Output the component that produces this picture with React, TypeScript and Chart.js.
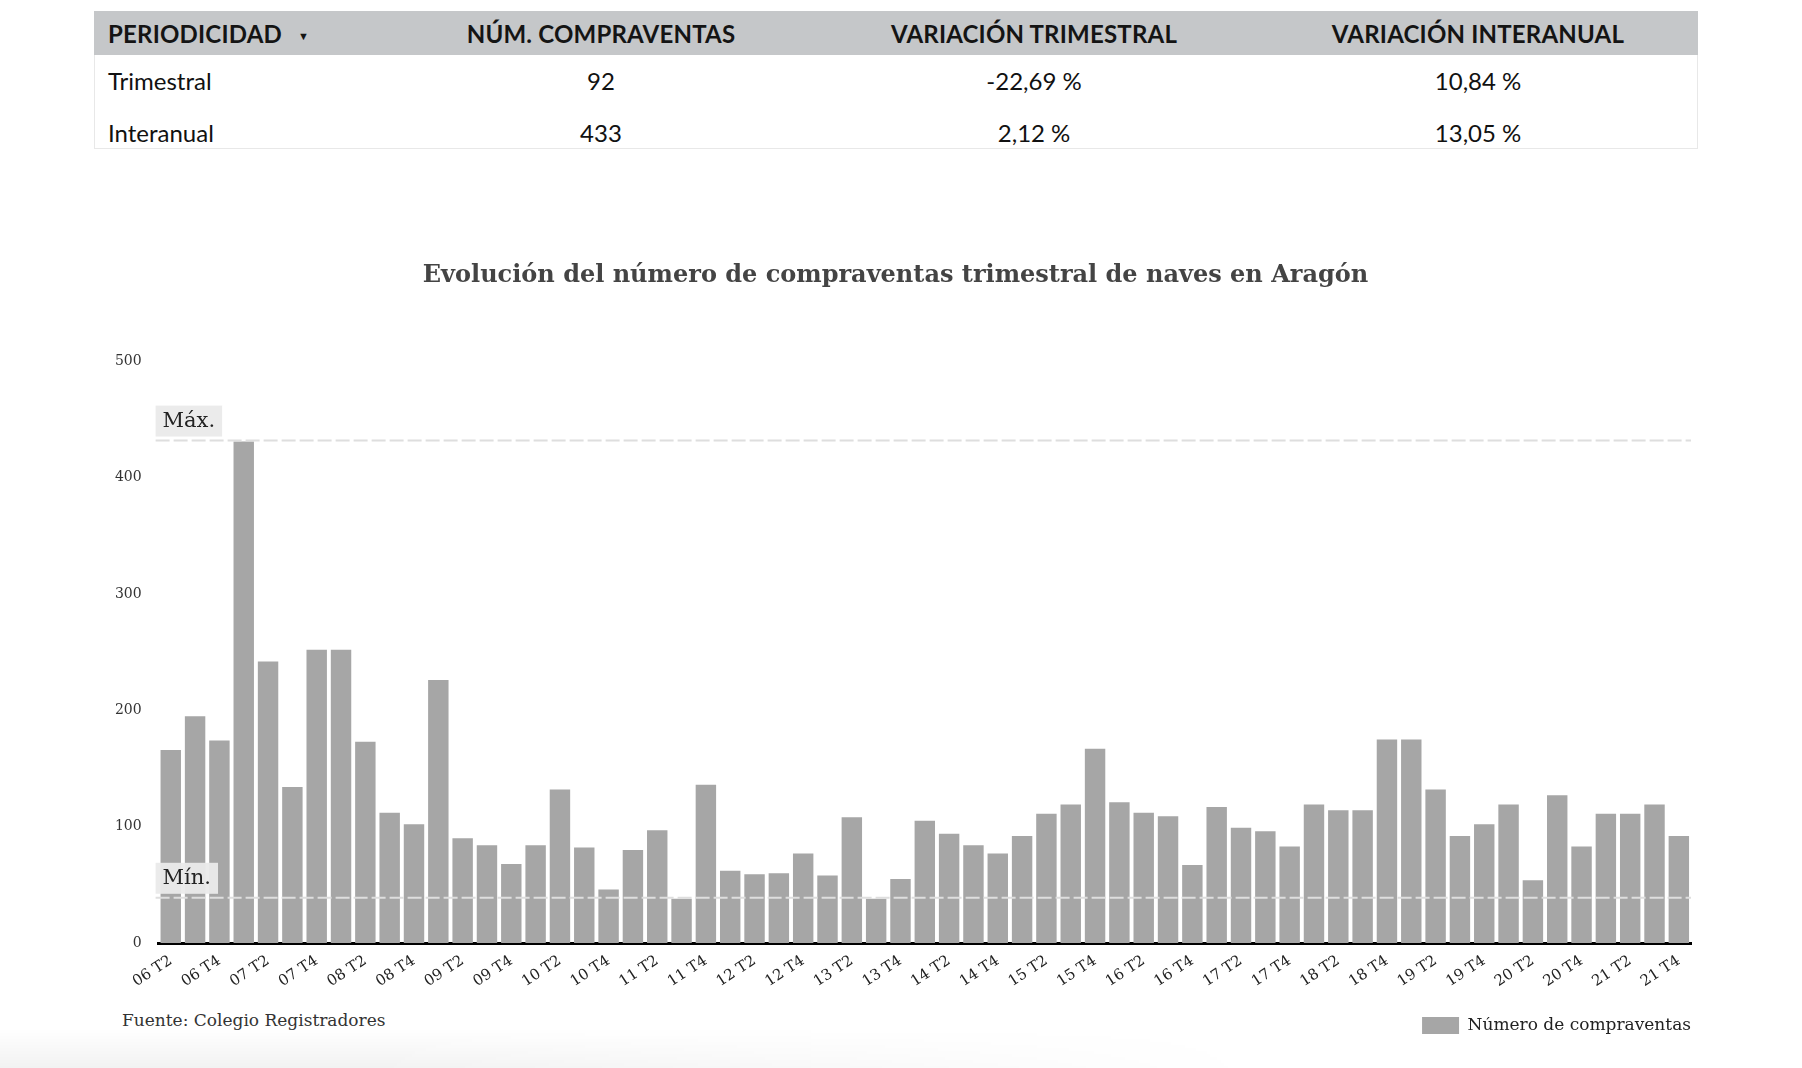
import React, { useEffect, useRef } from 'react'
import { Chart, registerables } from 'chart.js'

Chart.register(...registerables)

// trimestres 06 T2 .. 21 T4
const quarters: string[] = [
  '06 T2', '06 T3', '06 T4',
  '07 T1', '07 T2', '07 T3', '07 T4',
  '08 T1', '08 T2', '08 T3', '08 T4',
  '09 T1', '09 T2', '09 T3', '09 T4',
  '10 T1', '10 T2', '10 T3', '10 T4',
  '11 T1', '11 T2', '11 T3', '11 T4',
  '12 T1', '12 T2', '12 T3', '12 T4',
  '13 T1', '13 T2', '13 T3', '13 T4',
  '14 T1', '14 T2', '14 T3', '14 T4',
  '15 T1', '15 T2', '15 T3', '15 T4',
  '16 T1', '16 T2', '16 T3', '16 T4',
  '17 T1', '17 T2', '17 T3', '17 T4',
  '18 T1', '18 T2', '18 T3', '18 T4',
  '19 T1', '19 T2', '19 T3', '19 T4',
  '20 T1', '20 T2', '20 T3', '20 T4',
  '21 T1', '21 T2', '21 T3', '21 T4',
]

const compraventas: number[] = [
  166, 195, 174,
  431, 242, 134, 252,
  252, 173, 112, 102,
  226, 90, 84, 68,
  84, 132, 82, 46,
  80, 97, 38, 136,
  62, 59, 60, 77,
  58, 108, 38, 55,
  105, 94, 84, 77,
  92, 111, 119, 167,
  121, 112, 109, 67,
  117, 99, 96, 83,
  119, 114, 114, 175,
  175, 132, 92, 102,
  119, 54, 127, 83,
  111, 111, 119, 92,
]

const yTicks: number[] = [0, 100, 200, 300, 400, 500]

const tableHeader: string[] = ['PERIODICIDAD', 'NÚM. COMPRAVENTAS', 'VARIACIÓN TRIMESTRAL', 'VARIACIÓN INTERANUAL']
const tableRows: string[][] = [
  ['Trimestral', '92', '-22,69\u202F%', '10,84\u202F%'],
  ['Interanual', '433', '2,12\u202F%', '13,05\u202F%'],
]

const serif = '"DejaVu Serif", serif'

// líneas de máximo y mínimo con su etiqueta
const refLines = {
  id: 'refLines',
  afterDatasetsDraw (chart: Chart) {
    const { ctx, chartArea, scales } = chart
    const y = scales.y
    const vals = chart.data.datasets[0].data as number[]
    const marks = [
      { v: Math.max(...vals), text: 'Máx.' },
      { v: Math.min(...vals), text: 'Mín.' },
    ]
    ctx.save()
    marks.forEach(m => {
      const py = y.getPixelForValue(m.v) - 1
      ctx.setLineDash([14, 4])
      ctx.strokeStyle = '#dedede'
      ctx.lineWidth = 2
      ctx.beginPath()
      ctx.moveTo(chartArea.left - 3, py)
      ctx.lineTo(chartArea.right, py)
      ctx.stroke()
      ctx.setLineDash([])
      ctx.font = '21px ' + serif
      const w = ctx.measureText(m.text).width
      ctx.fillStyle = 'rgba(234,234,234,0.95)'
      ctx.fillRect(chartArea.left - 3, py - 35, w + 14, 31)
      ctx.fillStyle = '#222'
      ctx.textBaseline = 'middle'
      ctx.textAlign = 'left'
      ctx.fillText(m.text, chartArea.left + 4, py - 19)
    })
    ctx.restore()
  },
}

function BarChart () {
  const canvasRef = useRef<HTMLCanvasElement>(null)
  const chartRef = useRef<Chart | null>(null)

  useEffect(() => {
    if (chartRef.current) chartRef.current.destroy()
    if (!canvasRef.current) return
    chartRef.current = new Chart(canvasRef.current, {
      type: 'bar',
      data: {
        labels: quarters,
        datasets: [{
          label: 'Número de compraventas',
          data: compraventas,
          backgroundColor: '#a6a6a6',
          borderWidth: 0,
          categoryPercentage: 0.84,
          barPercentage: 1,
        }],
      },
      options: {
        responsive: true,
        maintainAspectRatio: false,
        animation: false,
        layout: { padding: { left: 100, right: 111, top: 0, bottom: 24 } },
        plugins: {
          title: {
            display: true,
            text: 'Evolución del número de compraventas trimestral de naves en Aragón',
            color: '#444',
            font: { family: serif, size: 24, weight: 'bold' },
            padding: { top: 101.5, bottom: 71 },
          },
          legend: {
            position: 'bottom',
            align: 'end',
            labels: {
              boxWidth: 37,
              boxHeight: 17,
              color: '#222',
              font: { family: serif, size: 17 },
              padding: 0,
            },
          },
          tooltip: { enabled: false },
        },
        scales: {
          x: {
            grid: { display: false, drawTicks: false },
            border: { display: true, color: '#000', width: 3 },
            ticks: {
              autoSkip: false,
              minRotation: 33,
              maxRotation: 33,
              padding: 9,
              color: '#222',
              font: { family: serif, size: 15 },
              callback: (_v: any, i: number) => (i % 2 === 0 ? quarters[i] : ''),
            },
            afterFit: (s: any) => { s.height = 74 },
          },
          y: {
            min: yTicks[0],
            max: yTicks[yTicks.length - 1],
            grid: { display: false, drawTicks: false },
            border: { display: false },
            ticks: {
              stepSize: 100,
              padding: 17,
              color: '#333',
              font: { family: serif, size: 14 },
            },
            afterFit: (s: any) => { s.width = 58.6 },
          },
        },
      },
      plugins: [refLines],
    })
    return () => {
      if (chartRef.current) chartRef.current.destroy()
    }
  }, [])

  return <canvas ref={canvasRef} />
}

const colLeft = [94, 392, 810, 1258]
const colWidth = [298, 418, 448, 440]

export default function App () {
  return (
    <div style={{ position: 'absolute', left: 0, top: 0, width: 1802, height: 1068, background: '#fff', overflow: 'hidden' }}>
      {/* tabla resumen */}
      <div style={{ position: 'absolute', left: 94, top: 11, width: 1602, height: 137, border: '1px solid #e8e8e8', borderTop: 'none' }} />
      <div style={{ position: 'absolute', left: 94, top: 11, width: 1604, height: 44, background: '#c5c7c9' }} />
      {tableHeader.map((h, i) => (
        <div key={h} style={{
          position: 'absolute', left: colLeft[i] + (i === 0 ? 14 : 0), top: 12, width: colWidth[i] - (i === 0 ? 14 : 0), height: 44,
          lineHeight: '44px', textAlign: i === 0 ? 'left' : 'center', whiteSpace: 'nowrap',
          fontFamily: 'Lato, sans-serif', fontWeight: 700, fontSize: 24, color: '#141414', letterSpacing: 0.2,
        }}>
          {h}{i === 0 && <span style={{ fontSize: 11, marginLeft: 16, position: 'relative', top: -3 }}>▼</span>}
        </div>
      ))}
      {tableRows.map((r, ri) => r.map((c, i) => (
        <div key={ri + '-' + i} style={{
          position: 'absolute', left: colLeft[i] + (i === 0 ? 14 : 0), top: ri === 0 ? 59 : 111, width: colWidth[i] - (i === 0 ? 14 : 0), height: 44,
          lineHeight: '44px', textAlign: i === 0 ? 'left' : 'center',
          fontFamily: 'Lato, sans-serif', fontSize: 24, color: '#111',
        }}>{c}</div>
      )))}

      <div style={{ position: 'absolute', left: 122, top: 1010, fontFamily: serif, fontSize: 17, color: '#333', whiteSpace: 'nowrap' }}>
        Fuente: Colegio Registradores
      </div>

      <div style={{ position: 'absolute', left: 0, top: 160, width: 1802, height: 908 }}>
        <BarChart />
      </div>

      <div style={{
        position: 'absolute', left: 0, bottom: 0, width: 1802, height: 40,
        background: 'linear-gradient(to bottom, rgba(0,0,0,0), rgba(0,0,0,0.05))',
        WebkitMaskImage: 'linear-gradient(to right, black 20%, transparent 70%)',
        maskImage: 'linear-gradient(to right, black 20%, transparent 70%)',
        pointerEvents: 'none',
      }} />
    </div>
  )
}
